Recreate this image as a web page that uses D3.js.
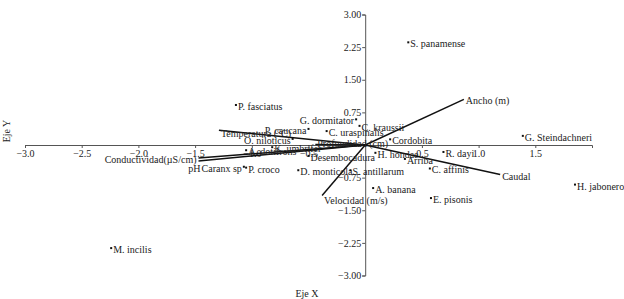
<!DOCTYPE html>
<html>
<head>
<meta charset="utf-8">
<script src="https://cdn.jsdelivr.net/npm/d3@7"></script>
<style>
  body { margin: 0; background: #fff; }
</style>
</head>
<body>
<svg id="chart" width="624" height="299"></svg>
<script>
// species scores
var speciesNames = ["S. panamense", "G. Steindachneri", "P. fasciatus", "G. dormitator", "C. kraussii",
  "P. caucana", "C. uraspinalis", "O. niloticus", "K. umbrifer", "A. dotifrons", "Caranx sp", "P. croco",
  "D. monticola", "S. antillarum", "A. banana", "E. pisonis", "C. affinis", "R. dayi", "H. jabonero",
  "H. hondae", "Arriba", "Cordobita", "Desembocadura", "M. incilis"];
var speciesX = [0.38, 1.39, -1.14, -0.08, -0.05, -0.50, -0.34, -0.64, -0.82, -1.05, -1.07, -1.05,
  -0.59, -0.13, 0.07, 0.58, 0.57, 0.69, 1.85, 0.09, 0.35, 0.22, -0.50, -2.24];
var speciesY = [2.36, 0.21, 0.92, 0.59, 0.44, 0.37, 0.32, 0.14, -0.05, -0.12, -0.50, -0.52,
  -0.58, -0.58, -0.99, -1.22, -0.54, -0.16, -0.91, -0.18, -0.32, 0.13, -0.25, -2.37];

// environmental vectors
var vectorNames = ["Ancho (m)", "Caudal", "Velocidad (m/s)", "Temperatura (°C)",
  "Conductividad(µS/cm)", "pH", "Profundidad (cm)"];
var vectorX = [0.87, 1.19, -0.38, -1.29, -1.47, -1.47, -0.44];
var vectorY = [1.05, -0.68, -1.16, 0.34, -0.30, -0.37, 0.01];

var xTicks = [-3.0, -2.5, -2.0, -1.5, -1.0, -0.5, 0.5, 1.0, 1.5];
var yTicks = [3.00, 2.25, 1.50, 0.75, -0.75, -1.50, -2.25, -3.00];

// labels that sit left of their point
var leftLabels = ["G. dormitator", "P. caucana", "O. niloticus", "Caranx sp"];

var FONT = 'Liberation Serif, DejaVu Serif, serif';

var svg = d3.select('#chart');

var x = d3.scaleLinear().domain([-3, 2]).range([25, 592]);
var y = d3.scaleLinear().domain([-3, 3]).range([275.5, 14.5]);

function label(sel) {
  sel.attr('font-family', FONT).attr('font-size', 10).attr('fill', '#222')
    .style('font-family', FONT);
}

// x axis
var xAxis = d3.axisBottom(x).tickValues(xTicks).tickSize(3)
  .tickFormat(d3.format('.1f'));
var gx = svg.append('g').attr('transform', 'translate(0,' + y(0) + ')').call(xAxis);
gx.select('.domain').attr('stroke', '#555');
gx.selectAll('.tick line').attr('stroke', '#555');
gx.selectAll('.tick text').attr('dy', '0.55em').call(label);

// y axis
var yAxis = d3.axisLeft(y).tickValues(yTicks).tickSize(3)
  .tickFormat(d3.format('.2f'));
var gy = svg.append('g').attr('transform', 'translate(' + x(0) + ',0)').call(yAxis);
gy.select('.domain').attr('stroke', '#555');
gy.selectAll('.tick line').attr('stroke', '#555');
gy.selectAll('.tick text').attr('x', -4).call(label);

// axis titles
svg.append('text').attr('x', 307).attr('y', 297).attr('text-anchor', 'middle')
  .call(label).text('Eje X');
svg.append('text').attr('transform', 'translate(10,131) rotate(-90)')
  .attr('text-anchor', 'middle').call(label).text('Eje Y');

// vectors
var vectors = vectorNames.map(function (n, i) { return {name: n, x: vectorX[i], y: vectorY[i]}; });
var vg = svg.append('g').selectAll('g').data(vectors).enter().append('g');
vg.append('line')
  .attr('x1', x(0)).attr('y1', y(0))
  .attr('x2', function (d) { return x(d.x); })
  .attr('y2', function (d) { return y(d.y); })
  .attr('stroke', '#111').attr('stroke-width', 1.5);
vg.append('text').call(label)
  .attr('text-anchor', function (d) { return (d.name === 'pH' || d.name.indexOf('Conduct') === 0) ? 'end' : 'start'; })
  .attr('x', function (d) {
    if (d.name === 'pH') return x(d.x) + 2;
    if (d.name.indexOf('Conduct') === 0) return x(d.x) - 2;
    return x(d.x) + 2;
  })
  .attr('y', function (d) {
    if (d.name === 'pH') return y(d.y) + 11;
    if (d.name === 'Velocidad (m/s)') return y(d.y) + 9;
    if (d.name === 'Profundidad (cm)') return y(d.y) + 2;
    if (d.name.indexOf('Temperatura') === 0) return y(d.y) + 7;
    return y(d.y) + 5;
  })
  .text(function (d) { return d.name; });

// species points
var species = speciesNames.map(function (n, i) { return {name: n, x: speciesX[i], y: speciesY[i]}; });
var sg = svg.append('g').selectAll('g').data(species).enter().append('g')
  .attr('transform', function (d) { return 'translate(' + x(d.x) + ',' + y(d.y) + ')'; });
sg.append('rect').attr('x', -1).attr('y', -1).attr('width', 2).attr('height', 2).attr('fill', '#111');
sg.append('text').call(label)
  .attr('text-anchor', function (d) { return leftLabels.indexOf(d.name) >= 0 ? 'end' : 'start'; })
  .attr('x', function (d) { return leftLabels.indexOf(d.name) >= 0 ? -2 : 2; })
  .attr('y', 5)
  .text(function (d) { return d.name; });
</script>
</body>
</html>
